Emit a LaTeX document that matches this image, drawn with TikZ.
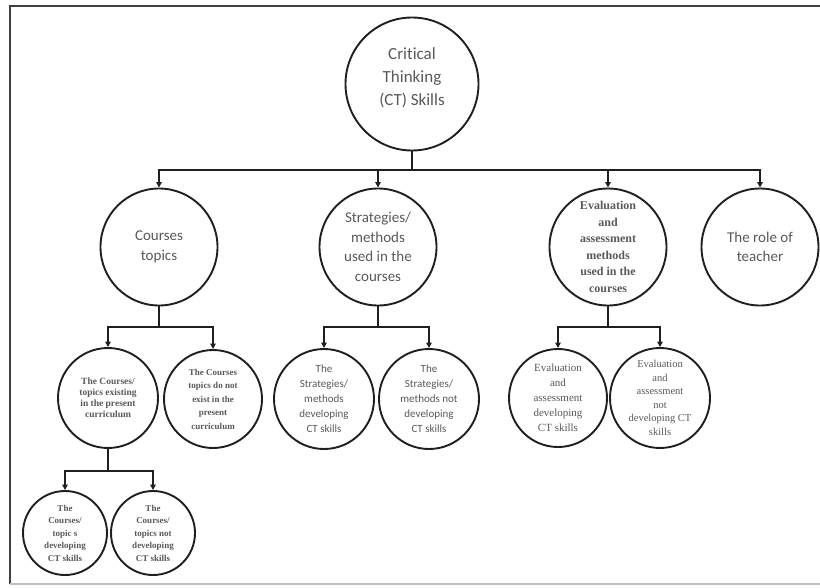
\documentclass[tikz,border=0pt]{standalone}
\usepackage{fontspec}
\setmainfont{Liberation Serif}
\newfontfamily\carl[Ligatures=CommonOff]{Carlito}
\usetikzlibrary{arrows.meta}
\definecolor{txt}{gray}{0.35}
\definecolor{ln}{gray}{0.12}
\tikzset{
  bub/.style={circle,draw=ln,line width=1.9pt,inner sep=0pt,align=center,text=txt},
  conn/.style={draw=ln,line width=1.8pt},
  arr/.style={conn,-{Triangle[length=5.5pt,width=5.5pt]}},
  topfont/.style={font=\carl\fontsize{17}{23}\selectfont},
  midfont/.style={font=\carl\fontsize{15}{19.5}\selectfont},
}
\begin{document}
\begin{tikzpicture}[x=1pt,y=-1pt]
\useasboundingbox (0,0) rectangle (820,587);
\draw[draw=black!75,line width=2.2pt] (830,6) -- (10,6) -- (10,584);
\draw[draw=black!25,line width=1.2pt] (10,584) -- (830,584);

% level 0
\node[bub,minimum size=133pt,topfont] (root) at (412,84) {Critical\\Thinking\\(CT) Skills\\[-9pt]};

% level 1
\node[bub,minimum size=117pt,midfont] (ct) at (159,247) {Courses\\topics};
\node[bub,minimum size=117pt,midfont] (sm) at (378,247) {Strategies/\\methods\\used in the\\courses};
\node[bub,minimum size=117pt,font=\bfseries\fontsize{12}{16.5}\selectfont] (ev) at (608,247) {Evaluation\\and\\assessment\\methods\\used in the\\courses};
\node[bub,minimum size=117pt,midfont] (te) at (760,247) {The role of\\teacher};

\coordinate (b0) at (412,170);
\draw[conn] (root.south) -- (b0);
\draw[arr] (b0) -| (ct.north);
\draw[arr] (b0) -| (sm.north);
\draw[arr] (b0) -| (ev.north);
\draw[arr] (b0) -| (te.north);

% level 2 under courses
\node[bub,minimum size=100pt,font=\bfseries\fontsize{9.5}{11}\selectfont] (ce) at (108,398) {The Courses/\\topics existing\\in the present\\curriculum};
\node[bub,minimum size=98pt,font=\bfseries\fontsize{9}{13.5}\selectfont] (cn) at (213,399) {The Courses\\topics do not\\exist in the\\present\\curriculum};
\coordinate (b1) at (159,327);
\draw[conn] (ct.south) -- (b1);
\draw[arr] (b1) -| (ce.north);
\draw[arr] (b1) -| (cn.north);

% level 3
\node[bub,minimum size=84pt,font=\bfseries\fontsize{9}{12.5}\selectfont] (cd) at (65,533) {The\\Courses/\\topic s\\developing\\CT skills};
\node[bub,minimum size=84pt,font=\bfseries\fontsize{9}{12.5}\selectfont] (cnd) at (153,533) {The\\Courses/\\topics not\\developing\\CT skills};
\coordinate (b2) at (108,471);
\draw[conn] (ce.south) -- (b2);
\draw[arr] (b2) -| (cd.north);
\draw[arr] (b2) -| (cnd.north);

% level 2 under strategies
\node[bub,minimum size=100pt,font=\carl\fontsize{11}{15}\selectfont] (sd) at (324,399) {The\\Strategies/\\methods\\developing\\CT skills};
\node[bub,minimum size=100pt,font=\carl\fontsize{11}{15}\selectfont] (snd) at (429,399) {The\\Strategies/\\methods not\\developing\\CT skills};
\coordinate (b3) at (378,327);
\draw[conn] (sm.south) -- (b3);
\draw[arr] (b3) -| (sd.north);
\draw[arr] (b3) -| (snd.north);

% level 2 under evaluation
\node[bub,minimum size=98pt,font=\fontsize{11}{15}\selectfont] (ed) at (558,398) {Evaluation\\and\\assessment\\developing\\CT skills};
\node[bub,minimum size=100pt,font=\fontsize{10.5}{13.5}\selectfont] (end) at (660,398) {Evaluation\\and\\assessment\\not\\developing CT\\skills};
\coordinate (b4) at (608,327);
\draw[conn] (ev.south) -- (b4);
\draw[arr] (b4) -| (ed.north);
\draw[arr] (b4) -| (end.north);
\end{tikzpicture}
\end{document}
